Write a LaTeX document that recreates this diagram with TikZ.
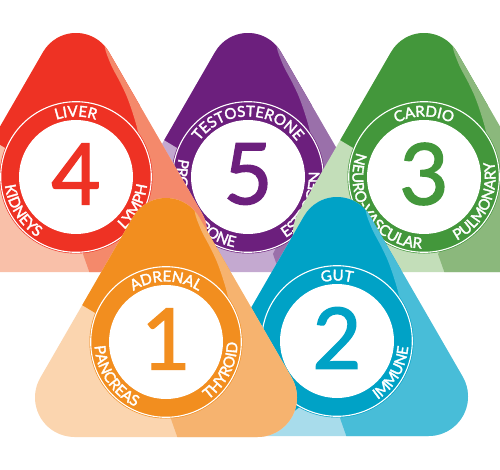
\documentclass[tikz,border=0pt]{standalone}
\usepackage{fontspec}
\setmainfont{Lato}
\newfontfamily\ringfamily[FakeBold=2.2]{Lato}
\newfontfamily\numfamily[FakeBold=1.6]{Lato}
\usetikzlibrary{decorations.text}
\definecolor{redD}{HTML}{EE3224}
\definecolor{redM}{HTML}{F4896B}
\definecolor{redL}{HTML}{F9C0A9}
\definecolor{purD}{HTML}{6C1F7D}
\definecolor{purM}{HTML}{9A70AA}
\definecolor{purL}{HTML}{C4A9D0}
\definecolor{grnD}{HTML}{43973B}
\definecolor{grnM}{HTML}{8BB87C}
\definecolor{grnL}{HTML}{C3DEB9}
\definecolor{orgD}{HTML}{F28E1F}
\definecolor{orgM}{HTML}{F6B36F}
\definecolor{orgL}{HTML}{FBD5AF}
\definecolor{bluD}{HTML}{00A2C6}
\definecolor{bluM}{HTML}{48BDD8}
\definecolor{bluL}{HTML}{A8DCEB}
\newcommand\silh{(32.9,125) arc[start angle=30,end angle=150,radius=38] -- (-125.7,-35.75) arc[start angle=150,end angle=270,radius=39.5] -- (91.5,-95) arc[start angle=-90,end angle=30,radius=39.5] -- cycle}
\newcommand\darkdefault{(-250,300) -- (-250,85) -- (-148,85) -- (-84,37) -- (-64,25) -- (-30,-30) -- (45,-35) -- (64,25) -- (64,300) -- cycle}
\newcommand\darkblue{(-250,300) -- (-250,-20) -- (-45,-72) -- (-30,-60) -- (45,-35) -- (64,25) -- (64,300) -- cycle}
\newcommand\rfont{\color{white}\ringfamily\fontsize{15}{15}\selectfont}
\newcommand\nfont{\numfamily\fontsize{85}{85}\selectfont}
\newcommand\lobes[3]{%
 \begin{scope}
  \clip \silh;
  \fill[#1L] (-200,-200) rectangle (200,200);
  \fill[#1D] #2;
  \fill[#1M] plot[smooth,tension=0.5] coordinates {(28,135) (30,125) (36,110) (44,95) (51,80) (57,63) (62,45) (64,25)} -- (45,-35) -- (#3,-77) -- ({#3+7},-97) -- ({#3+9},-130) -- (250,-130) -- (250,300) -- (28,300) -- cycle;
 \end{scope}
 \fill[#1D] (0,0) circle[radius=76.5];
 \draw[white,line width=1.1] (0,0) circle[radius=75.3];
 \fill[white] (0,0) circle[radius=57];
}
\newcommand\toptext[1]{\path[decorate,decoration={text along path,text align=center,text={|\rfont|#1}}] (160:60.5) arc[start angle=160,end angle=20,radius=60.5];}
\newcommand\sidetext[2]{\path[decorate,decoration={text along path,text align=center,text={|\rfont|#2}}] ({#1-80}:71.5) arc[start angle={#1-80},end angle={#1+80},radius=71.5];}
\begin{document}
\begin{tikzpicture}[x=1pt,y=1pt]
\path[use as bounding box] (0,0) rectangle (500,-470);
\clip (0,0) rectangle (500,-470);
\fill[white] (0,0) rectangle (500,-470);
% shape 5
\begin{scope}[shift={(248,-177)}]
 \lobes{pur}{\darkdefault}{25}
 \node[text=purD,font=\nfont] (n5) at (0,3) {5};
 \toptext{TESTOSTERONE}
 \sidetext{212}{PROGESTERONE}
 \sidetext{333}{ESTROGEN}
\end{scope}
% shape 4
\begin{scope}[shift={(76,-177)}]
 \lobes{red}{\darkdefault}{7}
 \node[text=redD,font=\nfont] (n4) at (0,3) {4};
 \toptext{LIVER}
 \sidetext{212}{KIDNEYS}
 \sidetext{333}{LYMPH}
\end{scope}
% shape 3
\begin{scope}[shift={(424,-177)}]
 \lobes{grn}{\darkdefault}{14}
 \node[text=grnD,font=\nfont] (n3) at (0,3) {3};
 \toptext{CARDIO}
 \sidetext{214}{NEURO-VASCULAR}
 \sidetext{335}{PULMONARY}
\end{scope}
% shape 2
\begin{scope}[shift={(337,-341)}]
 \lobes{blu}{\darkblue}{3}
 \node[text=bluD,font=\nfont] (n2) at (0,3) {2};
 \toptext{GUT}
 \sidetext{330}{IMMUNE}
\end{scope}
% shape 1
\begin{scope}[shift={(166,-342)}]
 \lobes{org}{\darkdefault}{5}
 \node[text=orgD,font=\nfont] (n1) at (0,3) {1};
 \toptext{ADRENAL}
 \sidetext{214}{PANCREAS}
 \sidetext{333}{THYROID}
\end{scope}
\end{tikzpicture}
\end{document}
